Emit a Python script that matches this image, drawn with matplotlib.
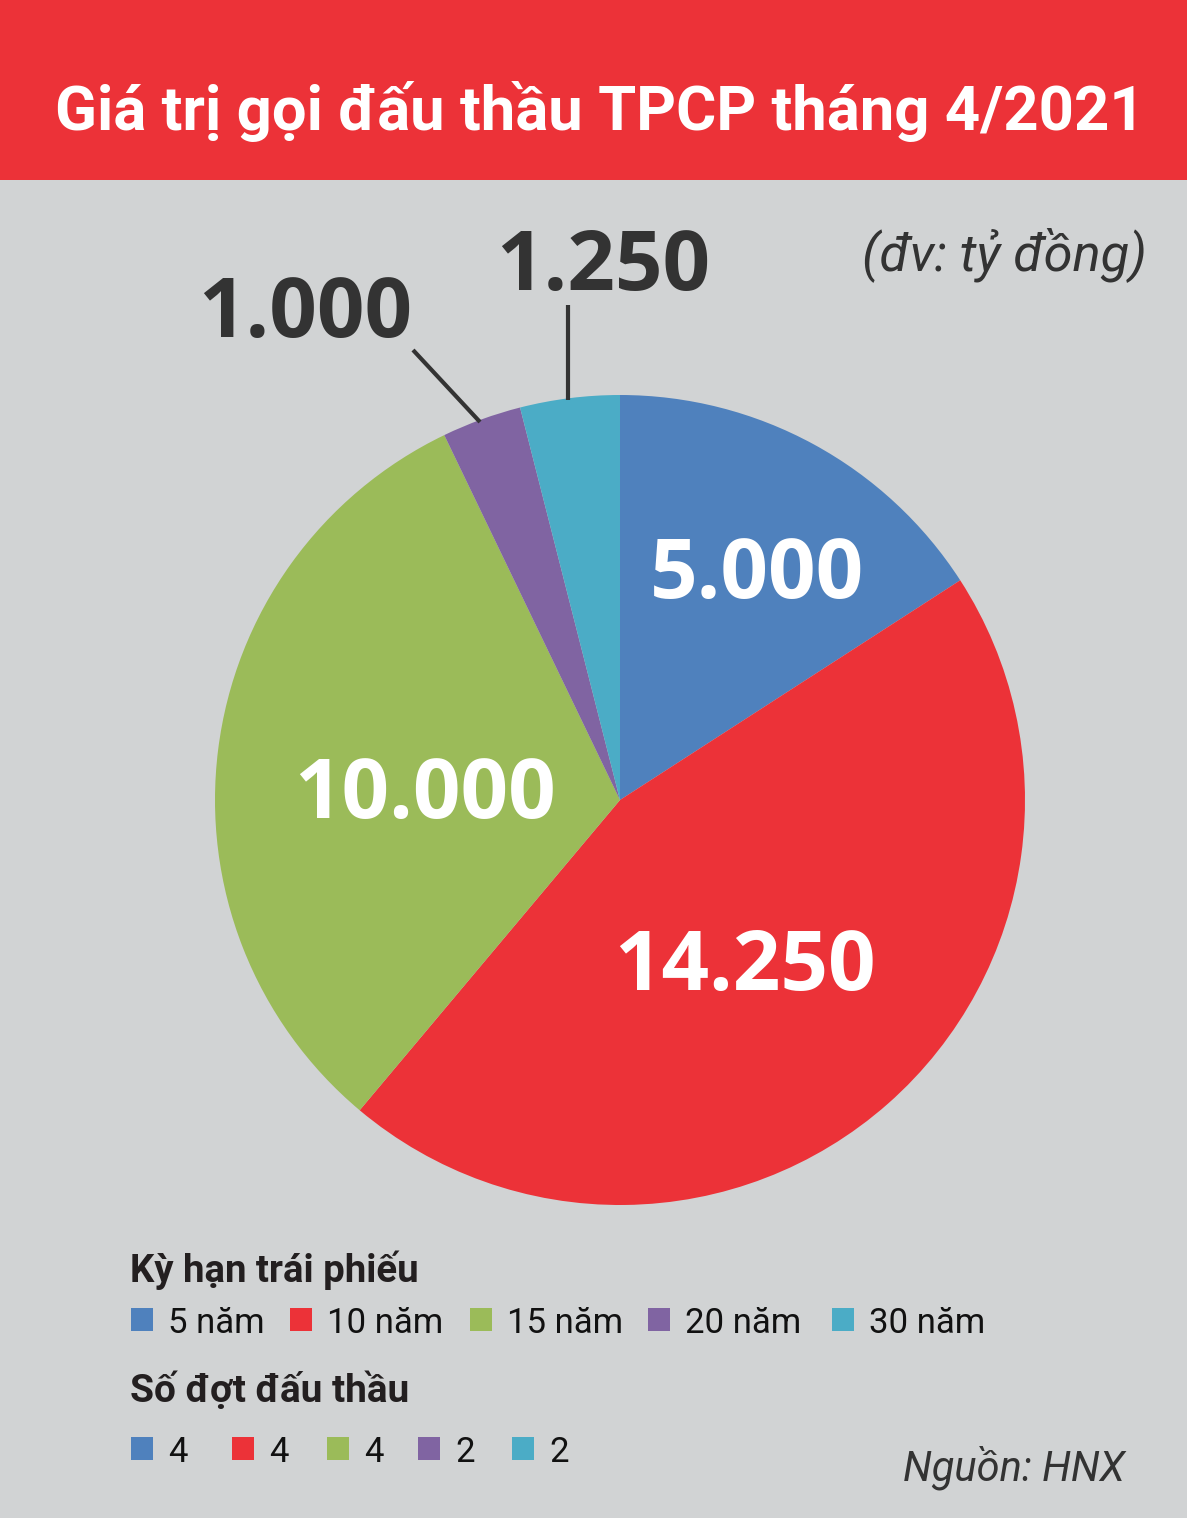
import matplotlib.pyplot as plt
from matplotlib.patches import Rectangle

terms = ['5 năm', '10 năm', '15 năm', '20 năm', '30 năm']
values = [5000, 14250, 10000, 1000, 1250]
labels = ['5.000', '14.250', '10.000', '1.000', '1.250']
rounds = ['4', '4', '4', '2', '2']
colors = ['#4F81BD', '#EC3238', '#9BBB59', '#8064A2', '#4BACC6']

W, H = 1187, 1518
narrow = ['Roboto', 'DejaVu Sans']
bold_font = ['Open Sans', 'DejaVu Sans']

fig = plt.figure(figsize=(W / 100, H / 100), dpi=100)
fig.patch.set_facecolor('#D1D3D4')

def fx(x):
    return x / W

def fy(y):
    return 1 - y / H

fitted = []

def fit(t, width):
    # shrink or grow the font so the text spans the given pixel width
    fitted.append((t, width))

# title bar
fig.patches.append(Rectangle((0, fy(180)), 1, 180 / H, transform=fig.transFigure,
                             facecolor='#EC3238', edgecolor='none'))
t = fig.text(fx(55), fy(130), 'Giá trị gọi đấu thầu TPCP tháng 4/2021', family=narrow,
             fontweight='bold', fontsize=60, color='white', ha='left', va='baseline')
fit(t, 1090)

t = fig.text(fx(1147), fy(270), '(đv: tỷ đồng)', family=narrow, style='italic',
             fontsize=40, color='#333333', ha='right', va='baseline')
fit(t, 285)

# pie
cx, cy, r = 620, 800, 405
ax = fig.add_axes([fx(cx - r), fy(cy + r), 2 * r / W, 2 * r / H])
ax.pie(values, colors=colors, startangle=90, counterclock=False,
       wedgeprops=dict(linewidth=0))
ax.set_xlim(-1, 1)
ax.set_ylim(-1, 1)
ax.set_aspect('equal')
ax.axis('off')

def ax_pt(x, y):
    return ((x - cx) / r, (cy - y) / r)

inside = [(757, 598), (745, 990), (425, 818)]
for (x, y), lab in zip(inside, labels[:3]):
    ax.text(*ax_pt(x, y), lab, family=bold_font, fontweight='bold', fontsize=60,
            color='white', ha='center', va='baseline')

outside = [(305, 337), (603, 290)]
for (x, y), lab in zip(outside, labels[3:]):
    ax.text(*ax_pt(x, y), lab, family=bold_font, fontweight='bold', fontsize=60,
            color='#333333', ha='center', va='baseline', clip_on=False)

for (x0, y0), (x1, y1) in [((413, 350), (480, 422)), ((568, 305), (568, 400))]:
    p0, p1 = ax_pt(x0, y0), ax_pt(x1, y1)
    ax.plot([p0[0], p1[0]], [p0[1], p1[1]], color='#333333', lw=3, clip_on=False,
            solid_capstyle='butt')

# legends
t = fig.text(fx(130), fy(1282), 'Kỳ hạn trái phiếu', family=narrow, fontweight='bold',
             fontsize=25, color='#231F20', ha='left', va='baseline')
fit(t, 290)
t = fig.text(fx(130), fy(1402), 'Số đợt đấu thầu', family=narrow, fontweight='bold',
             fontsize=25, color='#231F20', ha='left', va='baseline')
fit(t, 280)

row1_x = [131, 290, 470, 648, 832]
row2_x = [131, 232, 327, 418, 512]
for base, top, xs, texts in [(1333, 1308, row1_x, terms), (1462, 1437, row2_x, rounds)]:
    for x, s, c in zip(xs, texts, colors):
        fig.patches.append(Rectangle((fx(x), fy(top + 23)), 22 / W, 23 / H,
                                     transform=fig.transFigure, facecolor=c,
                                     edgecolor='none'))
        fig.text(fx(x + 37), fy(base), s, family=narrow, fontsize=25,
                 color='#111111', ha='left', va='baseline')

t = fig.text(fx(1125), fy(1480), 'Nguồn: HNX', family=narrow, style='italic',
             fontsize=34, color='#333333', ha='right', va='baseline')
fit(t, 222)

fig.canvas.draw()
renderer = fig.canvas.get_renderer()
for t, width in fitted:
    w = t.get_window_extent(renderer).width
    t.set_fontsize(t.get_fontsize() * width / w)

fig.savefig('out.png', dpi=100, facecolor=fig.get_facecolor())
